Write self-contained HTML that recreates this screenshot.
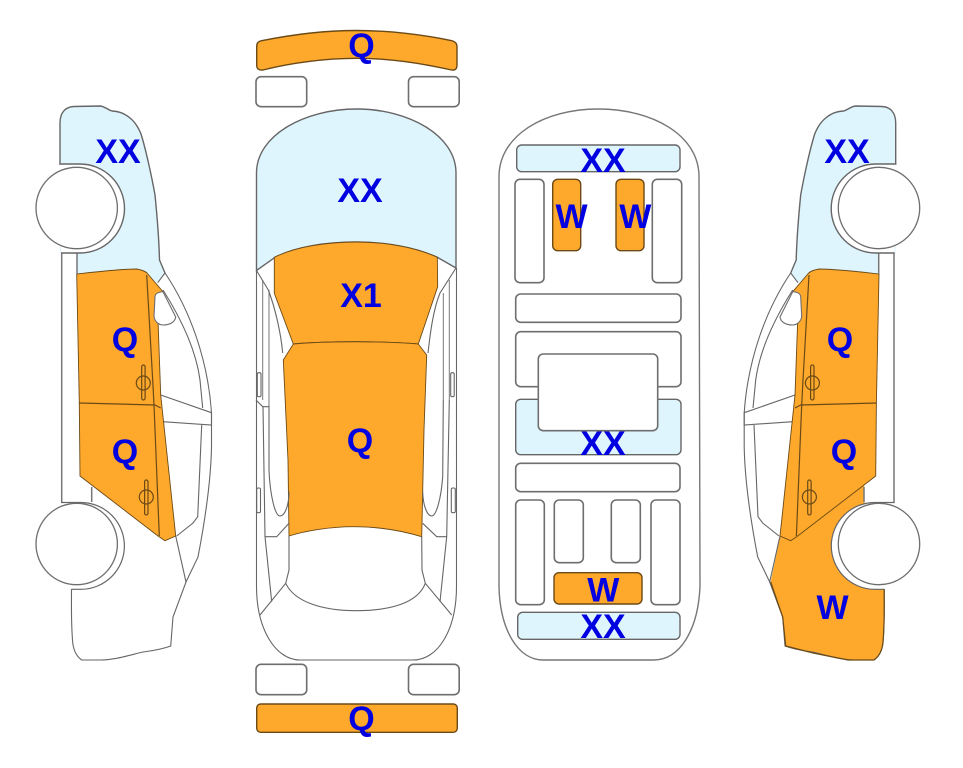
<!DOCTYPE html>
<html><head><meta charset="utf-8"><style>
html,body{margin:0;padding:0;background:#fff;width:963px;height:768px;overflow:hidden}
svg{display:block}
text{font-family:"Liberation Sans",sans-serif;font-weight:bold;font-size:34px;fill:#0000e0;text-anchor:middle}
.g{fill:#fff;stroke:#6e6e6e;stroke-width:1.6}
.l{fill:none;stroke:#666;stroke-width:1.1}
.t{fill:none;stroke:#777;stroke-width:1.5}
.b{fill:#dff5fe;stroke:#666;stroke-width:1.4}
.o{fill:#fea82c;stroke:#6b4a16;stroke-width:1.4}
.d{fill:none;stroke:#6b4a16;stroke-width:1.2}
</style></head><body>
<svg width="963" height="768" viewBox="0 0 963 768" xmlns="http://www.w3.org/2000/svg">
<defs>
<g id="side">
  <path fill="#dff5fe" d="M60,165 L60,123 C60,112 66,106.7 74,106.5 L100,106 C105,106.5 108,110 112,111 C119,111.5 124,113 130,118 C135,122 139,129 141,134 C146,150 152,178 155,195 C157,215 159,240 159.5,260 L165,273 L157.7,282.7 L146,275 L76.7,275 L76.7,253 L60,253 Z"/>
  <path class="l" style="stroke-width:1.4" d="M60,165 L60,123 C60,112 66,106.7 74,106.5 L100,106 C105,106.5 108,110 112,111 C119,111.5 124,113 130,118 C135,122 139,129 141,134 C146,150 152,178 155,195 C157,215 159,240 159.5,260 L165,273"/>
  <path class="l" d="M157.7,282.7 L165,273 C190,310 208,360 211.5,413 L211.5,447 C211,475 207,510 198,557 L186,582 L173,617 L170.7,646 C160,650 150,651 143,652 C130,655 115,660 100,660 L81.7,660 C76,656 73,650 72.5,640 C71,620 71.5,605 71.5,589"/>
  <path class="l" d="M163,290 C182,320 196,350 200,380 L202.7,408"/>
  <path class="l" d="M160.7,395 L211.5,412.7 L211.5,425 L162.7,421.7"/>
  <path class="l" d="M201.7,425 L197.7,516.7 L193,523 L176.7,536 M175.7,536 L186,582"/>
  <path class="o" style="stroke-width:.9" d="M76.7,274 C95,272 120,269 136.7,269 C142,270 145,271 147,273 L163,291.7 L158,320 L160.7,395 L175.7,536 L165,540.7 L158,536 L80,476 L79.3,403 Z"/>
  <path class="g" style="stroke-width:1.1" d="M163,291.7 C158,292 155,294 155,297 L154,316.7 C155,322 159,325 163,325 C170,325 175,322 175.7,317 Z"/>
  <path class="d" d="M146.7,275 L152.7,380 L154,405 L159.3,536 M79.3,403 L155,405 L160.7,408"/>
  <rect class="d" x="141.7" y="365" width="3.4" height="35" rx="1.7"/><circle class="d" cx="143.3" cy="383" r="7"/>
  <rect class="d" x="144.6" y="480" width="3.4" height="35" rx="1.7"/><circle class="d" cx="146.3" cy="497" r="7"/>
  <path class="t" d="M61.7,253 L61.7,502 M77,253 L77,274 M91.7,487 L91.7,502"/>
  <path fill="#fff" stroke="#666" stroke-width="1.4" d="M60,164 L80,164 A44.5,44.5 0 0 1 80,253 L61,253"/>
  <circle class="g" style="stroke-width:1.3" cx="76.7" cy="208" r="40.7"/>
  <path fill="#fff" stroke="#666" stroke-width="1.2" d="M61,502.5 L81,502.5 A43.4,43.4 0 0 1 81,589.3 L71.5,589.3"/>
  <circle class="g" style="stroke-width:1.3" cx="76.7" cy="544" r="40.7"/>
</g>
</defs>

<use href="#side"/>

<path fill="#fea82c" d="M795,400 L780,537 L770.7,582 L782.7,617 L785.7,646 L813,653 L848,660 L874,660 C879.7,656 882.7,650 883.2,640 C884.7,620 884.2,605 884.2,589 L875,560 L864.3,500 L864.3,476 Z"/>
<g transform="translate(955.7,0) scale(-1,1)"><use href="#side"/></g>
<path class="d" d="M770.7,582 L782.7,617 L785.7,646 L813,653 L848,660 L874,660 C879.7,656 882.7,650 883.2,640 C884.7,620 884.2,605 884.2,589"/>

<!-- top view -->
<path class="o" d="M256.7,46.7 C256.7,43 258,41.5 261.7,40.7 C290,35 325,30.5 356.7,30.5 C390,30.5 425,35 451.7,40.7 C455,41.5 457,43 457,46.7 L457,65 C457,69 455,70.5 451.7,70 C420,63 390,58.3 356.7,58.3 C325,58.3 290,63 263,70 C259,70.5 256.7,69 256.7,65 Z"/>
<rect class="g" x="256" y="76.7" width="50.7" height="30" rx="5"/>
<rect class="g" x="408.5" y="76.7" width="50.7" height="30" rx="5"/>
<path class="l" d="M256.5,268 L256.5,586 C256.5,630 276,660 300,660 L413,660 C438,660 456.5,630 456.5,586 L456.5,268"/>
<path class="t" style="stroke-width:1" d="M262.7,280 L262.7,400 M269,290 L269,406 M443.3,293 L443.3,400 M449.3,280 L449.3,400"/>
<path class="b" d="M256.5,270.5 L256.5,173 C256.5,135 305,109 356.7,109 C408,109 456,135 456,173 L456,268 L437.3,257.3 C415,247 385,242 356.7,242 C325,242 295,247 275,257.3 Z"/>
<path class="l" d="M256.5,270.5 L268.3,290 C276,310 281,335 282.7,353 M456,268 L440,293 C433,310 430,335 428,353"/>
<path class="o" style="stroke-width:.9" d="M274.3,257.3 C295,247 325,242 356.7,242 C385,242 415,247 437.3,257.3 L437.7,286.7 L418.3,344 C385,341 325,341 293.3,344 L274.3,293.3 Z"/>
<path class="o" style="stroke-width:.9" d="M293.3,344 C325,341 385,341 418.3,344 L426.7,355 L424,430 L421.7,536.7 C400,530 375,526.7 353,526.7 C330,526.7 305,531 289,536 L288,460 L283.3,360 Z"/>
<path class="l" d="M256,400 L262.7,406.7 L269,406.7 M263,406 L265,536.7 L271.7,601.7 M269,406 L269,470 C270,495 275,516 280,516 C285,516 289,505 289,491.7 M265,536.7 L276.7,536.7 L289,523.3"/>
<path class="l" d="M443.3,400 L442.7,476.7 C441,500 436,516 431.7,516 C427,516 423,505 422.7,491.7 M422.7,523.3 L436.7,536.7 L446.7,536.7 M449.3,400 L446.7,536.7 L440,601.7"/>
<path class="l" d="M289,536 L289,570 L285.7,583.3 C295,603 325,610.7 356,610.7 C390,610.7 418,603 425.3,583.3 L422,570 L421.7,536.7 M285.7,583.3 L260,615 M425.3,583.3 L451.7,615"/>
<rect class="l" x="257.3" y="372.7" width="3.7" height="24" rx="1.5"/>
<rect class="l" x="256.7" y="488" width="3.8" height="24.7" rx="1.5"/>
<rect class="l" x="450.7" y="372.7" width="3.5" height="24" rx="1.5"/>
<rect class="l" x="451.3" y="488" width="4" height="24.7" rx="1.5"/>
<rect class="g" x="256" y="664.3" width="50.7" height="30.4" rx="5"/>
<rect class="g" x="408.5" y="664.3" width="50.7" height="30.4" rx="5"/>
<rect class="o" x="256.7" y="704" width="200.6" height="28.3" rx="4"/>

<!-- rear/plan view -->
<path class="l" style="stroke-width:1.4;stroke:#777" d="M499,586.7 L499,176.7 C499,135 545,109 598.3,109 C652,109 699,135 699,176.7 L700,586.7 C698,630 680,660 653.3,660 L543.3,660 C518,660 500,630 499,586.7 Z"/>
<rect class="b" x="516.7" y="145" width="163.3" height="26.7" rx="5"/>
<rect class="g" x="515" y="179.3" width="29" height="103.4" rx="5"/>
<rect class="o" x="552.7" y="179.3" width="28" height="71.4" rx="5"/>
<rect class="o" x="616" y="179.3" width="28" height="71.4" rx="5"/>
<rect class="g" x="652.3" y="179.3" width="29.4" height="103.4" rx="5"/>
<rect class="g" x="515.7" y="294" width="165.3" height="28.3" rx="5"/>
<rect class="g" x="515.7" y="331.7" width="165.3" height="55" rx="5"/>
<rect class="b" x="515.7" y="399.3" width="165.3" height="55.4" rx="5"/>
<rect class="g" x="538.3" y="354" width="119.4" height="76.7" rx="5"/>
<rect class="g" x="515.7" y="463.3" width="164.3" height="28.4" rx="5"/>
<rect class="g" x="515.7" y="500" width="28.6" height="104.7" rx="5"/>
<rect class="g" x="554.3" y="500" width="29" height="62.7" rx="5"/>
<rect class="g" x="611.3" y="500" width="29" height="62.7" rx="5"/>
<rect class="g" x="651" y="500" width="29" height="104.7" rx="5"/>
<rect class="o" x="554" y="572.7" width="88" height="31.3" rx="5"/>
<rect class="b" x="517.7" y="612.3" width="162.3" height="27" rx="5"/>

<!-- labels -->
<text x="118" y="163">XX</text>
<text x="125" y="351">Q</text>
<text x="125" y="463">Q</text>
<text x="361.5" y="57">Q</text>
<text x="360" y="202">XX</text>
<text x="361" y="307">X1</text>
<text x="360" y="452">Q</text>
<text x="361.5" y="730">Q</text>
<text x="603" y="172">XX</text>
<text x="571.5" y="228">W</text>
<text x="635.3" y="228">W</text>
<text x="603" y="455">XX</text>
<text x="603.3" y="601.5">W</text>
<text x="603" y="638">XX</text>
<text x="847" y="163">XX</text>
<text x="840" y="351">Q</text>
<text x="844" y="463">Q</text>
<text x="832.6" y="619">W</text>
</svg>
</body></html>
